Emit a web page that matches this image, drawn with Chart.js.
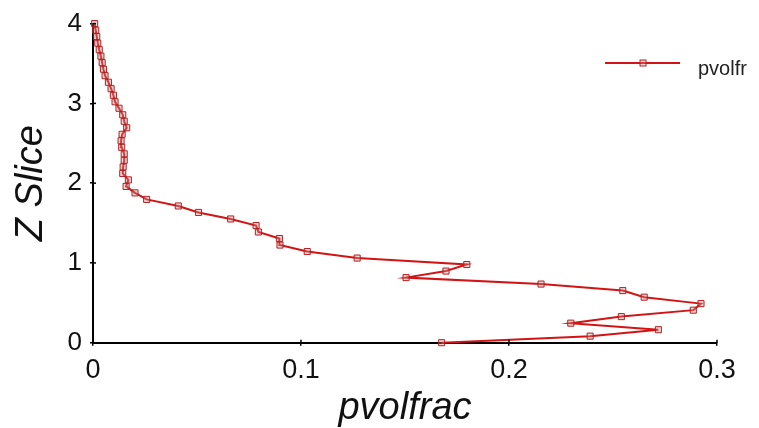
<!DOCTYPE html>
<html><head><meta charset="utf-8">
<script src="https://cdn.jsdelivr.net/npm/chart.js@4/dist/chart.umd.min.js"></script>
<style>html,body{margin:0;padding:0;background:#fff}#wrap{width:759px;height:428px}</style>
</head><body><div id="wrap"><canvas id="c" width="759" height="428"></canvas></div>
<script>
const seriesLabel = 'pvolfr';
const zSlice = [0, 0.082, 0.163, 0.245, 0.327, 0.408, 0.49, 0.571, 0.653, 0.735, 0.816, 0.898, 0.98, 1.061, 1.143, 1.224, 1.306, 1.388, 1.469, 1.551, 1.633, 1.714, 1.796, 1.878, 1.959, 2.041, 2.122, 2.204, 2.286, 2.367, 2.449, 2.531, 2.612, 2.694, 2.776, 2.857, 2.939, 3.02, 3.102, 3.184, 3.265, 3.347, 3.429, 3.51, 3.592, 3.673, 3.755, 3.837, 3.918, 4.0];
const pvolfrac = [0.1676, 0.239, 0.2718, 0.2297, 0.254, 0.2886, 0.2923, 0.265, 0.2547, 0.2154, 0.1505, 0.1697, 0.1797, 0.127, 0.103, 0.0899, 0.0896, 0.0795, 0.0784, 0.0662, 0.0507, 0.041, 0.0258, 0.0202, 0.0159, 0.017, 0.0143, 0.0145, 0.015, 0.015, 0.0138, 0.0135, 0.014, 0.0162, 0.015, 0.0143, 0.0125, 0.0106, 0.0098, 0.0087, 0.0074, 0.0058, 0.005, 0.0044, 0.0038, 0.003, 0.0023, 0.0018, 0.0013, 0.0008];
const xTicks = [0, 0.1, 0.2, 0.3];
const yTicks = [0, 1, 2, 3, 4];
const xTitle = 'pvolfrac';
const yTitle = 'Z Slice';

const FONT = "'Liberation Sans', Arial, sans-serif";
const LINE_COLOR = '#d21414';
const PT_BORDER = '#b02020';
const PT_FILL = 'rgba(210,140,140,0.35)';

const extras = {
  id: 'extras',
  afterDraw(chart) {
    const ctx = chart.ctx;
    const {left, bottom} = chart.chartArea;
    const xs = chart.scales.x, ys = chart.scales.y;
    ctx.save();
    ctx.strokeStyle = '#000';
    ctx.lineWidth = 1.5;
    xTicks.forEach(v => {
      const px = xs.getPixelForValue(v);
      ctx.beginPath(); ctx.moveTo(px, bottom); ctx.lineTo(px, bottom - 3); ctx.stroke();
    });
    yTicks.forEach(v => {
      const py = ys.getPixelForValue(v);
      ctx.beginPath(); ctx.moveTo(left, py); ctx.lineTo(left + 3, py); ctx.stroke();
    });
    // legend
    const lx0 = 605, lx1 = 680, ly = 63;
    ctx.strokeStyle = LINE_COLOR;
    ctx.lineWidth = 2;
    ctx.beginPath(); ctx.moveTo(lx0, ly); ctx.lineTo(lx1, ly); ctx.stroke();
    ctx.fillStyle = PT_FILL;
    ctx.fillRect(640, ly - 3, 6, 6);
    ctx.strokeStyle = PT_BORDER; ctx.lineWidth = 1;
    ctx.strokeRect(640, ly - 3, 6, 6);
    ctx.fillStyle = '#222';
    ctx.font = "20px " + FONT;
    ctx.textBaseline = 'middle';
    ctx.textAlign = 'left';
    ctx.fillText(chart.data.datasets[0].label, 698, 69);
    ctx.restore();
  }
};

new Chart(document.getElementById('c'), {
  type: 'scatter',
  data: {
    datasets: [{
      label: seriesLabel,
      data: zSlice.map((z, i) => ({x: pvolfrac[i], y: z})),
      showLine: true,
      borderColor: LINE_COLOR,
      borderWidth: 2,
      tension: 0,
      pointStyle: 'rect',
      pointRadius: 4.3,
      pointBorderWidth: 1,
      pointBorderColor: PT_BORDER,
      pointBackgroundColor: PT_FILL,
      clip: false
    }]
  },
  options: {
    responsive: false,
    animation: false,
    devicePixelRatio: 1,
    layout: {padding: {top: 22.7, right: 42, left: 0, bottom: 0}},
    plugins: {legend: {display: false}, tooltip: {enabled: false}},
    scales: {
      x: {
        type: 'linear', min: 0, max: 0.3,
        afterBuildTicks: s => { s.ticks = xTicks.map(v => ({value: v})); },
        afterFit: s => { s.height = 428 - 342.7; },
        grid: {drawOnChartArea: false, drawTicks: true, tickLength: 3, color: '#000', lineWidth: 1.5},
        border: {display: true, color: '#000', width: 2},
        ticks: {
          color: '#111', padding: 9,
          font: {family: FONT, size: 27},
          callback: v => String(Math.round(v * 10) / 10)
        },
        title: {display: true, text: xTitle, color: '#111', font: {family: FONT, size: 38, style: 'italic'}, padding: {top: 0, bottom: -3}}
      },
      y: {
        type: 'linear', min: 0, max: 4,
        afterBuildTicks: s => { s.ticks = yTicks.map(v => ({value: v})); },
        afterFit: s => { s.width = 93; },
        grid: {drawOnChartArea: false, drawTicks: true, tickLength: 3, color: '#000', lineWidth: 1.5},
        border: {display: true, color: '#000', width: 2},
        ticks: {
          color: '#111', padding: 8,
          font: {family: FONT, size: 26},
          callback: v => String(v)
        },
        title: {display: true, text: yTitle, color: '#111', font: {family: FONT, size: 38, style: 'italic'}, padding: {top: 9, bottom: 0}}
      }
    }
  },
  plugins: [extras]
});
</script>
</body></html>
